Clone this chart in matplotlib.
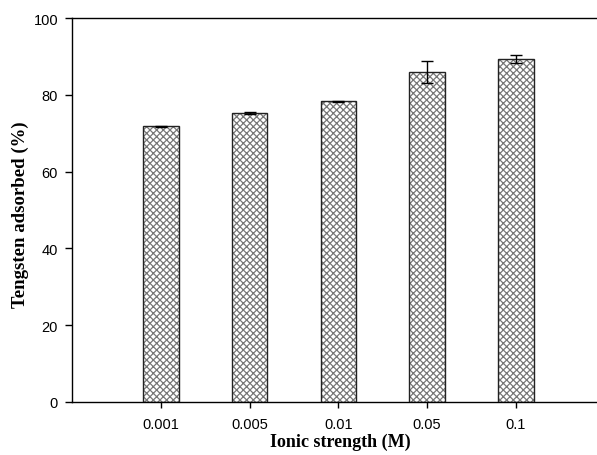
import matplotlib.pyplot as plt
import numpy as np

# ionic strength categories and tungsten adsorption (%)
labels = ["0.001", "0.005", "0.01", "0.05", "0.1"]
adsorbed = [71.8, 75.2, 78.3, 86.0, 89.3]
errors = [0.2, 0.3, 0.2, 2.9, 1.1]

plt.rcParams['hatch.linewidth'] = 0.9
plt.rcParams['hatch.color'] = '#777777'

fig = plt.figure(figsize=(5.97, 4.56), dpi=100)
# axes run past the right edge like the cropped original
ax = fig.add_axes([72/597, (456-403)/456, (604.6-72)/597, (403-19)/456])

x = np.arange(len(labels))

# hatched fill, then a black outline on top
ax.bar(x, adsorbed, width=0.4, color='white', edgecolor='#777777',
       hatch='xxxxx', linewidth=0, zorder=2)
ax.bar(x, adsorbed, width=0.4, fill=False, edgecolor='#222222',
       linewidth=1.0, zorder=3)
ax.errorbar(x, adsorbed, yerr=errors, fmt='none', ecolor='black',
            elinewidth=1.0, capsize=4, capthick=1.0, zorder=4)

ax.set_xlim(-1, 5)
ax.set_ylim(0, 100)
ax.set_yticks([0, 20, 40, 60, 80, 100])
ax.set_xticks(x)
ax.set_xticklabels(labels)

for lab in ax.get_xticklabels() + ax.get_yticklabels():
    lab.set_family('Liberation Sans')
    lab.set_fontsize(10.5)

ax.tick_params(axis='y', direction='out', length=5, width=1, pad=5)
ax.tick_params(axis='x', direction='out', length=4, width=1, pad=7)
ax.spines['right'].set_visible(False)
for s in ['left', 'bottom', 'top']:
    ax.spines[s].set_linewidth(1.0)

ax.set_xlabel("Ionic strength (M)", family='Liberation Serif',
              fontweight='bold', fontsize=13)
ax.set_ylabel("Tengsten adsorbed (%)", family='Liberation Serif',
              fontweight='bold', fontsize=13.5)
ax.xaxis.set_label_coords((340 - 72) / (604.6 - 72), -(434 - 403) / 384)
ax.yaxis.set_label_coords(-(72 - 29) / (604.6 - 72), (403 - 215) / 384)

fig.savefig("out.png", dpi=100)
